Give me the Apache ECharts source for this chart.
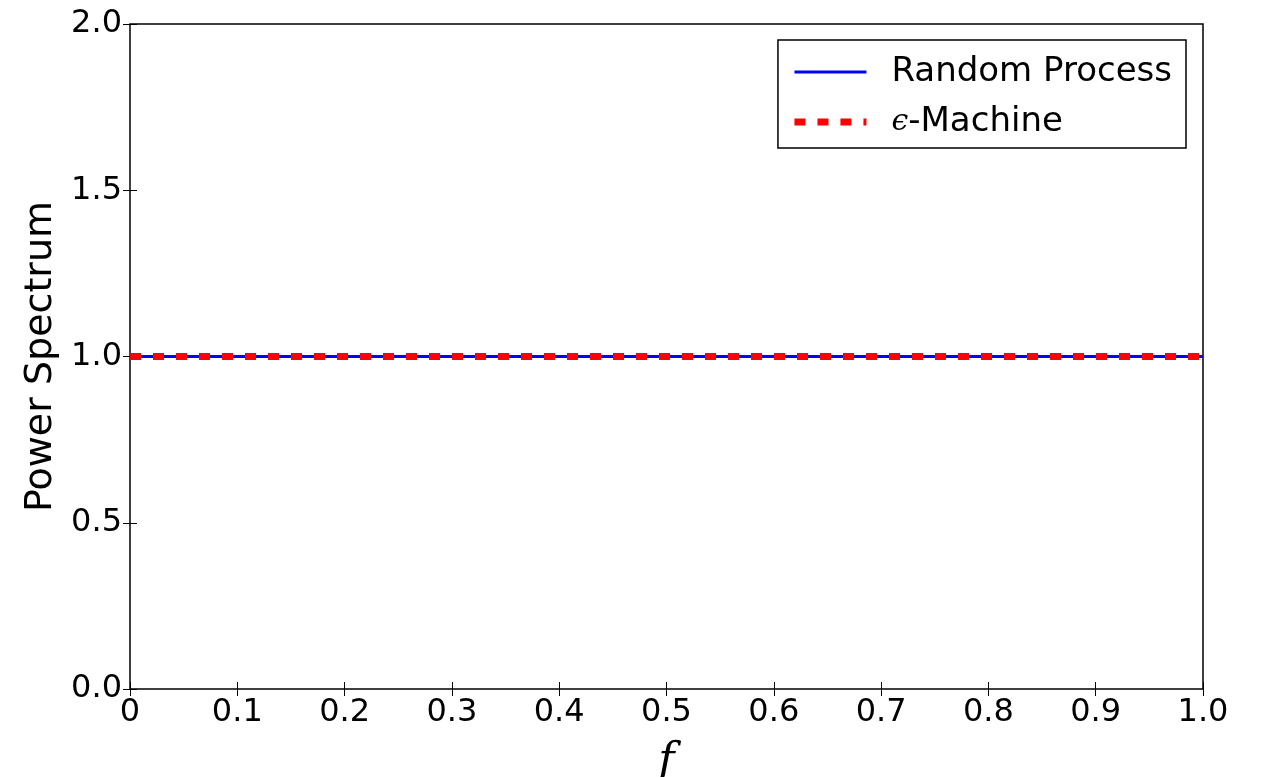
<!DOCTYPE html>
<html>
<head>
<meta charset="utf-8">
<script src="https://cdn.jsdelivr.net/npm/echarts@6/dist/echarts.min.js"></script>
<style>
  html, body { margin: 0; padding: 0; background: #fff; }
  #chart { width: 1261px; height: 777px; }
</style>
</head>
<body>
<div id="chart"></div>
<script>
// frequency samples and both spectra (flat at 1.0)
const freqs = [0, 0.1, 0.2, 0.3, 0.4, 0.5, 0.6, 0.7, 0.8, 0.9, 1.0];
const randomProcess = [1, 1, 1, 1, 1, 1, 1, 1, 1, 1, 1];
const epsMachine = [1, 1, 1, 1, 1, 1, 1, 1, 1, 1, 1];
const xTickLabels = ["0", "0.1", "0.2", "0.3", "0.4", "0.5", "0.6", "0.7", "0.8", "0.9", "1.0"];
const yTickLabels = ["0.0", "0.5", "1.0", "1.5", "2.0"];

const chart = echarts.init(document.getElementById("chart"));
const font = "DejaVu Sans";

const tickStyle = { show: true, inside: true, length: 7, lineStyle: { color: "#000", width: 1 } };

const option = {
  animation: false,
  grid: {
    left: 130, right: 58, top: 24, bottom: 88,
    outerBoundsMode: "none",
    containLabel: false,
    show: true, borderColor: "#000", borderWidth: 1.5,
  },
  legend: {
    orient: "vertical",
    right: 75, top: 40,
    padding: [15, 14, 9, 13],
    itemGap: 16,
    itemWidth: 72, itemHeight: 8,
    borderColor: "#000", borderWidth: 1.5,
    backgroundColor: "#fff",
    itemStyle: { opacity: 0 },
    textStyle: {
      fontFamily: font, fontSize: 34, color: "#000", padding: [0, 0, 0, 20],
      rich: {
        e: { fontFamily: "DejaVu Serif", fontStyle: "italic", fontSize: 30, color: "#000" },
        t: { fontFamily: font, fontSize: 34, color: "#000" },
      },
    },
    formatter: (name) => name === "ϵ-Machine" ? "{e|ϵ}{t|-Machine}" : name,
    data: [
      { name: "Random Process", lineStyle: { color: "#0000ff", width: 3 } },
      { name: "ϵ-Machine", lineStyle: { color: "#ff0000", width: 7, type: [11, 12] } },
    ],
  },
  xAxis: [
    {
      type: "value", min: 0, max: 1, interval: 0.1,
      name: "f", nameLocation: "middle", nameGap: 52,
      nameTextStyle: { fontFamily: "DejaVu Serif", fontStyle: "italic", fontSize: 44, color: "#000" },
      axisLine: { show: false },
      axisTick: tickStyle,
      splitLine: { show: false },
      axisLabel: {
        fontFamily: font, fontSize: 32, color: "#000", margin: 8,
        formatter: (v) => xTickLabels[Math.round(v * 10)],
      },
    },
    {
      type: "value", min: 0, max: 1, interval: 0.1, position: "top",
      axisLine: { show: false }, axisTick: tickStyle,
      splitLine: { show: false }, axisLabel: { show: false },
    },
  ],
  yAxis: [
    {
      type: "value", min: 0, max: 2, interval: 0.5,
      name: "Power Spectrum", nameLocation: "middle", nameGap: 68,
      nameTextStyle: { fontFamily: font, fontSize: 38, color: "#000" },
      axisLine: { show: false },
      axisTick: tickStyle,
      splitLine: { show: false },
      axisLabel: {
        fontFamily: font, fontSize: 32, color: "#000", margin: 8,
        formatter: (v) => yTickLabels[Math.round(v * 2)],
      },
    },
    {
      type: "value", min: 0, max: 2, interval: 0.5, position: "right",
      axisLine: { show: false }, axisTick: tickStyle,
      splitLine: { show: false }, axisLabel: { show: false },
    },
  ],
  series: [
    {
      name: "Random Process",
      type: "line",
      showSymbol: false,
      symbol: "none",
      color: "#0000ff",
      lineStyle: { color: "#0000ff", width: 3 },
      data: freqs.map((f, i) => [f, randomProcess[i]]),
      z: 2,
    },
    {
      name: "ϵ-Machine",
      type: "line",
      showSymbol: false,
      symbol: "none",
      color: "#ff0000",
      lineStyle: { color: "#ff0000", width: 7, type: [11, 12] },
      data: freqs.map((f, i) => [f, epsMachine[i]]),
      z: 3,
    },
  ],
};

chart.setOption(option);
</script>
</body>
</html>
